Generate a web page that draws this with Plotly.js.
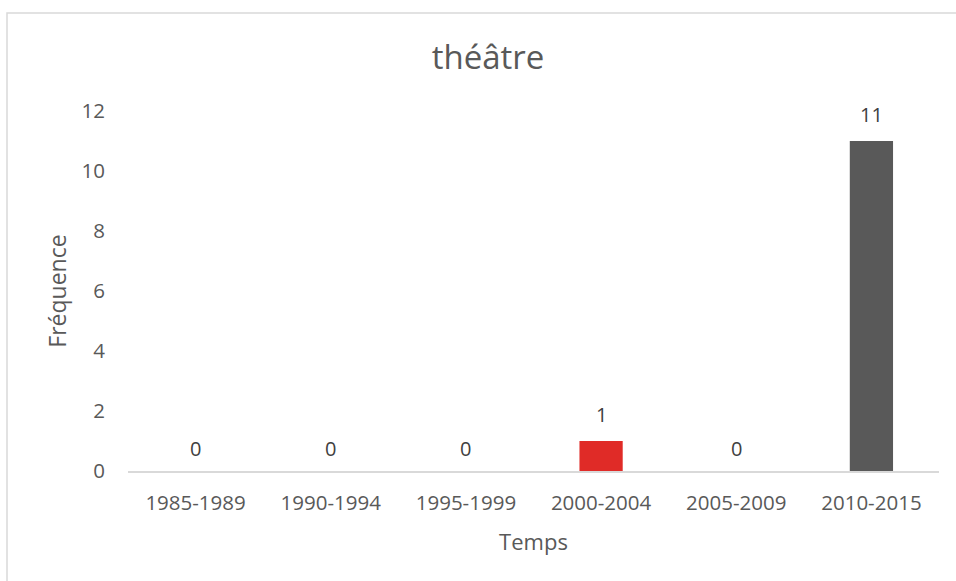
<!DOCTYPE html>
<html><head><meta charset="utf-8">
<script src="https://cdn.plot.ly/plotly-3.0.1.min.js"></script>
<style>html,body{margin:0;padding:0;background:#fff}#c{width:956px;height:581px}</style>
</head><body><div id="c"></div>
<script>
const categories = ["1985-1989","1990-1994","1995-1999","2000-2004","2005-2009","2010-2015"];
const values = [0,0,0,1,0,11];
const barColors = ["#595959","#595959","#595959","#e02b27","#595959","#595959"];
const yTicks = [0,2,4,6,8,10,12];

const font = "Open Sans, Liberation Sans, sans-serif";
const txt = "#595959";

const trace = {
  type: "bar", x: categories, y: values,
  marker: {color: barColors},
  hoverinfo: "none"
};

const annotations = categories.map((c,i)=>({
  x: c, y: values[i], xref: "x", yref: "y",
  text: String(values[i]), showarrow: false,
  yanchor: "bottom", yshift: values[i] === 0 ? 7 : 11,
  font: {family: font, size: 20, color: "#404040"}
}));

const layout = {
  width: 956, height: 581,
  margin: {l:128, r:17, t:111, b:110},
  paper_bgcolor: "#fff", plot_bgcolor: "#fff",
  bargap: 0.68,
  showlegend: false,
  title: {text: "théâtre", x: 488/956, xref: "container", y: 1-57/581, yref: "container", yanchor: "middle",
          font: {family: font, size: 33, color: txt}},
  xaxis: {
    showline: true, linecolor: "#d9d9d9", linewidth: 1.5,
    ticks: "", ticklabelstandoff: 13, tickfont: {family: font, size: 20.5, color: txt},
    title: {text: "Temps", font: {family: font, size: 22, color: txt}, standoff: 19},
    fixedrange: true
  },
  yaxis: {
    range: [0, 12], tickvals: yTicks, ticktext: yTicks.map(String),
    showgrid: false, zeroline: false, showline: false,
    ticks: "", ticklabelstandoff: 22,
    tickfont: {family: font, size: 20.5, color: txt},
    title: {text: "Fréquence", font: {family: font, size: 23, color: txt}, standoff: 8},
    fixedrange: true
  },
  annotations: annotations,
  shapes: [{
    type: "rect", xref: "paper", yref: "paper",
    x0: (7-128)/811, x1: 1.1, y0: -0.4, y1: (471-13)/360,
    line: {color: "#d9d9d9", width: 1.5}, fillcolor: "rgba(0,0,0,0)", layer: "below"
  }]
};

Plotly.newPlot("c", [trace], layout, {displayModeBar: false, staticPlot: true});
</script></body></html>
